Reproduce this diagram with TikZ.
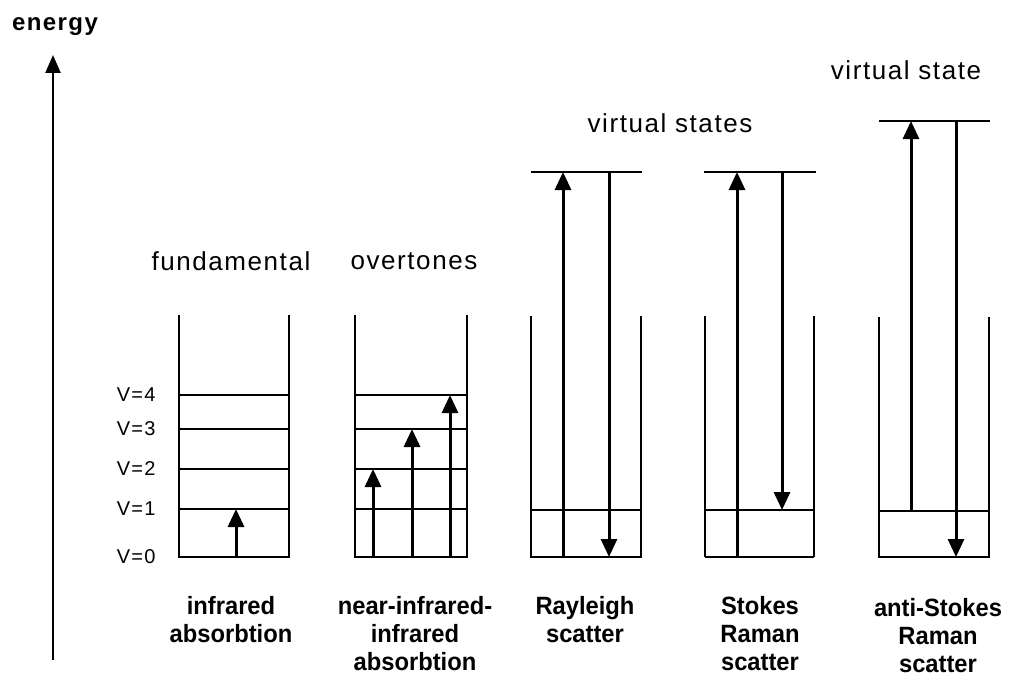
\documentclass[tikz,border=0pt]{standalone}
\usepackage{fontspec}
\setmainfont{Liberation Sans}
\newfontfamily\widesans[LetterSpace=6]{Liberation Sans}
\newfontfamily\narrowsans[FakeStretch=0.95]{Liberation Sans}
\usetikzlibrary{arrows.meta}

\begin{document}
\begin{tikzpicture}[x=1pt,y=-1pt,
  wall/.style={line width=1.3pt},
  thickwall/.style={line width=2.6pt},
  levelline/.style={line width=1.3pt},
  transition/.style={line width=3pt,-{Triangle[length=18pt,width=16pt]}},
  toplabel/.style={font=\fontsize{26}{26}\selectfont\widesans},
  botlabel/.style={font=\fontsize{25}{28}\selectfont\narrowsans\bfseries,align=center},
  vlabel/.style={font=\fontsize{20}{20}\selectfont\widesans,anchor=east}]
\useasboundingbox (0,0) rectangle (1009,677);

% energy axis
\node[font=\fontsize{24}{24}\selectfont\widesans\bfseries] (energy) at (55,27) {energy};
\coordinate (e0) at (53,660);
\coordinate (e1) at (53,55);
\draw[line width=2.4pt,-{Triangle[length=18pt,width=15pt]}] (e0) -- (e1);

% fundamental and overtones: two wells with five levels
\draw[wall] (179,315) -- (179,557) -- (289,557) -- (289,315);
\draw[wall] (355,315) -- (355,557) -- (467,557) -- (467,315);
\foreach \v/\y in {0/557,1/509,2/469,3/429,4/395} {
  \draw[levelline] (179,\y) -- (289,\y);
  \draw[levelline] (355,\y) -- (467,\y);
  \node[vlabel] (v\v) at (159,\y) {V=\v};
}
\node[toplabel] (fund) at (231,261) {fundamental};
\node[toplabel] (over) at (414,261) {overtones};

\coordinate (f0) at (236,557);
\coordinate (f1) at (236,509);
\draw[transition] (f0) -- (f1);
\coordinate (o2a) at (373,557);
\coordinate (o2b) at (373,469);
\coordinate (o3a) at (412,557);
\coordinate (o3b) at (412,429);
\coordinate (o4a) at (450,557);
\coordinate (o4b) at (450,395);
\draw[transition] (o2a) -- (o2b);
\draw[transition] (o3a) -- (o3b);
\draw[transition] (o4a) -- (o4b);

% Rayleigh
\draw[wall] (531,316) -- (531,557) -- (641,557) -- (641,316);
\draw[levelline] (531,510) -- (641,510);
\draw[levelline] (531,172) -- (642,172);
\coordinate (r0) at (563,557);
\coordinate (r1) at (563,172);
\coordinate (r2) at (609,172);
\coordinate (r3) at (609,557);
\draw[transition] (r0) -- (r1);
\draw[transition] (r2) -- (r3);

% Stokes
\draw[thickwall] (705,316) -- (705,557);
\draw[thickwall] (814,316) -- (814,557);
\draw[levelline] (705,557) -- (814,557);
\draw[levelline] (705,510) -- (814,510);
\draw[levelline] (704,172) -- (816,172);
\coordinate (s0) at (737,557);
\coordinate (s1) at (737,172);
\coordinate (s2) at (782,172);
\coordinate (s3) at (782,510);
\draw[transition] (s0) -- (s1);
\draw[transition] (s2) -- (s3);
\node[toplabel] (virts) at (670,123) {virtual states};

% anti-Stokes
\draw[wall] (879,317) -- (879,557) -- (989,557) -- (989,317);
\draw[levelline] (879,511) -- (989,511);
\draw[levelline] (879,121) -- (990,121);
\coordinate (a0) at (911,511);
\coordinate (a1) at (911,121);
\coordinate (a2) at (956,121);
\coordinate (a3) at (956,557);
\draw[transition] (a0) -- (a1);
\draw[transition] (a2) -- (a3);
\node[toplabel] (virt) at (906,70) {virtual state};

% captions
\node[botlabel] (ir) at (231,620) {infrared\\absorbtion};
\node[botlabel] (nir) at (415,634) {near-infrared-\\infrared\\absorbtion};
\node[botlabel] (rayl) at (585,620) {Rayleigh\\scatter};
\node[botlabel] (stokes) at (760,634) {Stokes\\Raman\\scatter};
\node[botlabel] (astokes) at (938,636) {anti-Stokes\\Raman\\scatter};
\end{tikzpicture}
\end{document}
